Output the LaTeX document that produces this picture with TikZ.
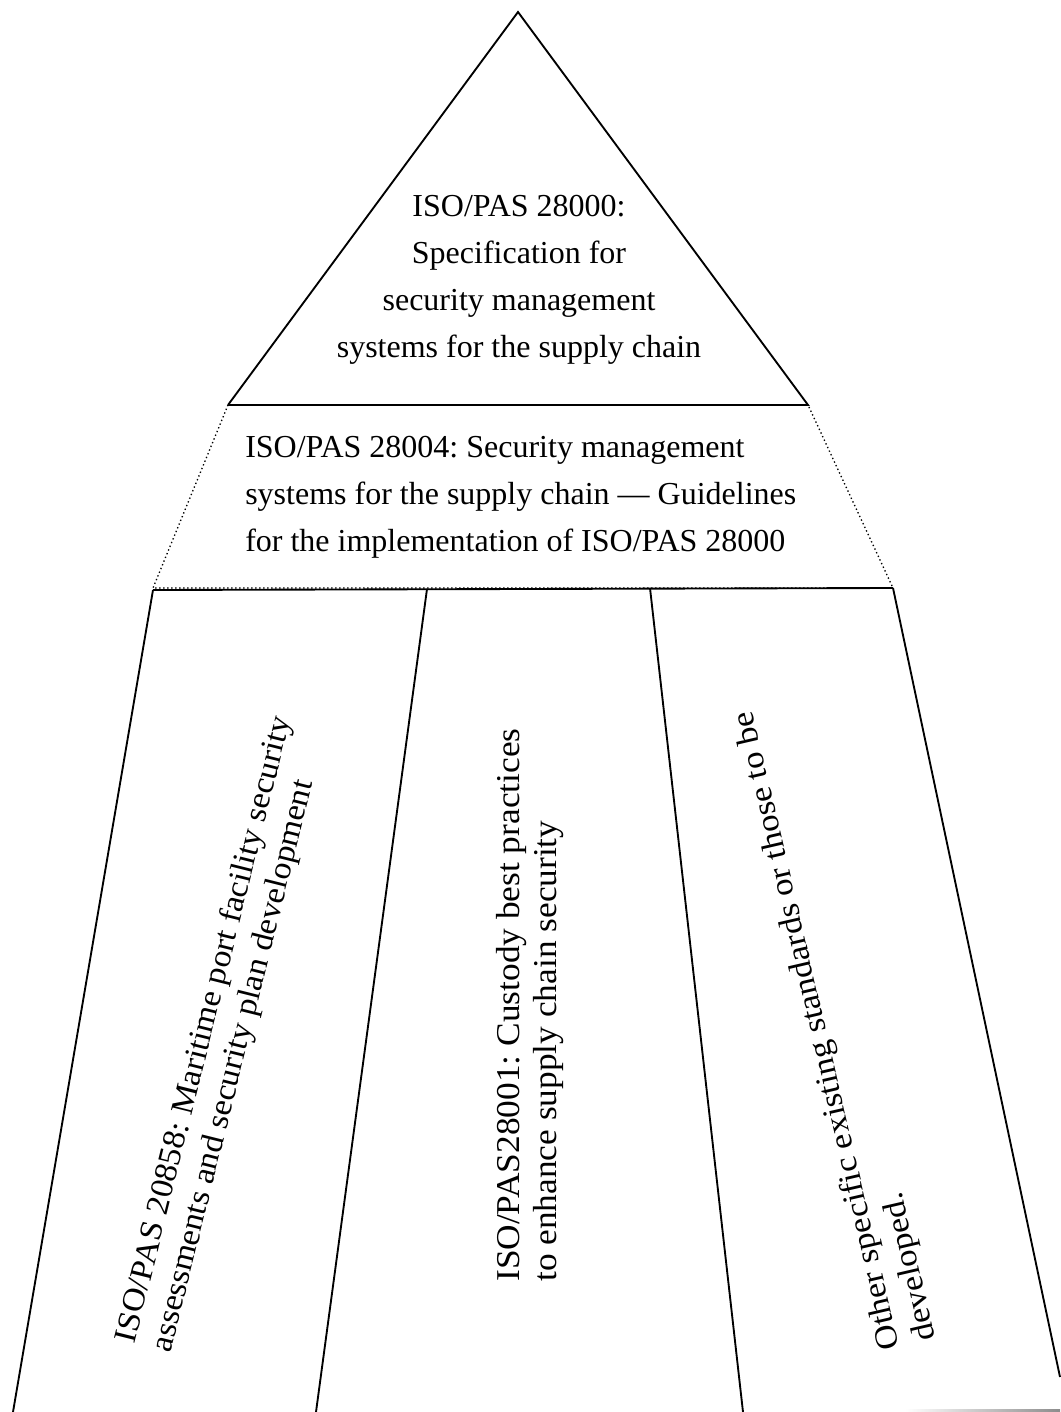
\documentclass[tikz,border=0pt]{standalone}
\usepackage{fontspec}
\setmainfont{Liberation Serif}
\newfontfamily\colfont[FakeStretch=1.06]{Liberation Serif}
\newfontfamily\widecolfont[FakeStretch=1.09]{Liberation Serif}
\frenchspacing
\usetikzlibrary{positioning}
\tikzset{
	edge/.style={line width=1.4pt},
	seam/.style={line width=1pt,dotted},
	apexnote/.style={align=center,inner sep=0pt,font=\fontsize{24}{35.25}\selectfont},
	colnote/.style={align=left,inner sep=0pt,anchor=west},
}

\begin{document}
\begin{tikzpicture}[x=0.75pt,y=-0.75pt]
		\useasboundingbox (0,0) rectangle (1060,1412);
		% corners of the pyramid
		\coordinate (apex) at (518,12);
		\coordinate (tl) at (228,405);
		\coordinate (tr) at (808,405);
		\coordinate (ml) at (153,588);
		\coordinate (mr) at (893,588);
		\coordinate (c0) at (153,590);
		\coordinate (c1) at (427,589);
		\coordinate (c2) at (650,588);
		\coordinate (c3) at (893,588);
		\coordinate (b0) at (13,1412);
		\coordinate (b1) at (316,1412);
		\coordinate (b2) at (743,1412);
		\coordinate (b3) at (1060,1377);
		\draw[edge] (tl) -- (apex) -- (tr) -- (tl);
		\draw[seam] (tl) -- (ml) -- (mr) -- (tr);
		\draw[edge] (c0) -- (c3);
		\draw[edge] (c0) -- (b0);
		\draw[edge] (c1) -- (b1);
		\draw[edge] (c2) -- (b2);
		\draw[edge] (c3) -- (b3);
		\shade[left color=white,right color=black!45] (905,1409) rectangle (1060,1412);
		% texts
		\node[apexnote] (spec) at (519,280) {ISO/PAS 28000:\\Specification for\\security management\\systems for the supply chain};
		\node[colnote,font=\fontsize{24}{35.25}\selectfont] (guide) at (245,497) {ISO/PAS 28004: Security management\\systems for the supply chain — Guidelines\\for the implementation of ISO/PAS 28000};
		\node[colnote,rotate=76,font=\colfont\fontsize{24}{27.75}\selectfont] (port) at (145,1347) {ISO/PAS 20858: Maritime port facility security\\assessments and security plan development};
		\node[colnote,rotate=90,font=\colfont\fontsize{25}{27.75}\selectfont] (custody) at (530,1282) {ISO/PAS28001: Custody best practices\\to enhance supply chain security};
		\node[colnote,rotate=103,font=\widecolfont\fontsize{24}{27.75}\selectfont] (other) at (910,1345) {Other specific existing standards or those to be\\developed.};
	\end{tikzpicture}
\end{document}
